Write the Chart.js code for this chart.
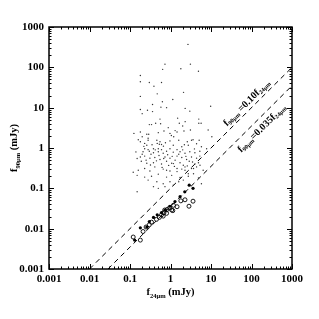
<!DOCTYPE html>
<html>
<head>
<meta charset="utf-8">
<script src="https://cdn.jsdelivr.net/npm/chart.js@4.4.0/dist/chart.umd.min.js"></script>
<style>
  html, body { margin: 0; padding: 0; background: #fff; }
</style>
</head>
<body>
<canvas id="chart" width="319" height="319"></canvas>
<script>
// axis ticks (both axes share the same decades)
const tickValues = [0.001, 0.01, 0.1, 1, 10, 100, 1000];
const tickLabels = ['0.001', '0.01', '0.1', '1', '10', '100', '1000'];

// small dots: [f24um, f90um] in mJy
const smallDots = [
  [2.7,370],[0.73,120],[3.1,120],[0.64,89],[1.8,92],[4.9,80],[0.18,63],[0.18,44],[0.30,42],[0.6,42],
  [0.39,34],[0.47,22],[2.1,24],[0.18,19],[1.14,16],[0.63,14],[0.36,12],[9.8,10.8],[0.58,10.3],[0.8,10],
  [2.3,9.6],[3.0,8.2],[0.18,9.0],[0.27,8.6],[0.36,8.0],[0.2,7.1],[0.55,5.2],[1.5,5.5],[5.0,5.2],[0.3,3.8],
  [0.34,3.8],[0.43,4.1],[0.57,4.0],[1.65,4.1],[2.0,3.5],[2.3,4.5],[5.0,4.1],[5.7,4.1],[0.125,2.3],[0.18,2.5],
  [0.26,2.2],[0.29,2.2],[0.5,2.4],[0.69,2.65],[0.97,2.3],[1.3,2.7],[2.15,2.65],[3.1,2.8],[1.45,2.5],[8.5,2.8],
  [1.05,2.05],[10.5,1.9],[0.2,1.9],[0.28,1.75],[0.28,1.56],[0.46,1.56],[0.55,1.43],[0.97,1.5],[1.6,1.56],[2.6,1.43],
  [3.3,1.56],[4.4,1.28],[5.1,1.56],[3.6,1.6],[0.18,1.43],[0.23,1.3],[0.26,1.17],[0.47,1.3],[0.53,1.24],[0.6,1.22],
  [0.67,1.11],[1.17,1.17],[1.9,1.07],[2.75,1.17],[5.8,1.07],[7.8,0.96],[0.23,0.96],[0.28,0.91],[0.38,0.96],[0.5,0.96],
  [0.6,0.91],[0.97,0.96],[1.45,0.91],[0.21,0.81],[0.3,0.83],[0.38,0.76],[0.5,0.81],[0.66,0.74],[0.8,0.83],[1.17,0.79],
  [1.72,0.81],[2.28,0.74],[3.0,0.81],[4.0,0.76],[5.3,0.83],[0.18,0.6],[0.23,0.63],[0.31,0.56],[0.41,0.58],[0.55,0.52],
  [0.73,0.6],[0.97,0.56],[1.45,0.63],[1.9,0.58],[2.5,0.52],[3.3,0.6],[4.4,0.56],[5.3,0.63],[0.19,0.47],[0.26,0.42],
  [0.38,0.43],[0.6,0.4],[0.8,0.47],[1.07,0.42],[1.72,0.43],[2.07,0.375],[2.9,0.47],[4.0,0.4],[4.9,0.43],[0.12,0.25],
  [0.16,0.28],[0.23,0.31],[0.31,0.27],[0.41,0.34],[0.66,0.3],[0.97,0.27],[1.45,0.31],[2.28,0.28],[3.3,0.31],[4.4,0.34],
  [0.15,0.21],[0.23,0.19],[0.34,0.2],[0.5,0.225],[0.8,0.19],[1.07,0.21],[1.72,0.185],[2.75,0.2],[3.7,0.23],[0.28,0.16],
  [0.46,0.145],[0.66,0.13],[1.17,0.12],[1.6,0.145],[2.07,0.16],[0.15,0.082],[0.5,0.1],[1.18,0.41],[2.28,0.34],[3.7,0.31],
  [0.8,0.28],[1.45,0.26],[2.75,0.23],[6.4,0.28],[5.8,0.13],[4.9,0.18],[0.97,0.145],[0.73,0.11],[0.38,0.11],[5.35,0.375],
  [0.2,0.7],[0.25,0.5],[0.33,0.7],[0.42,0.9],[0.52,0.65],[0.68,0.55],[0.85,0.68],[1.1,0.62],[1.3,0.5],[1.6,0.7],
  [2.0,0.9],[2.4,0.62],[0.22,1.1],[0.35,1.2],[0.45,0.48],[0.62,0.33],[0.9,0.37],[1.25,0.35],[1.9,0.3],[2.6,0.36],
  [3.5,0.45],[0.15,0.55],[0.14,0.8],[0.16,1.6],[0.32,0.38],[0.75,1.35],[1.2,1.9],[2.2,1.2],[3.9,0.95],[0.88,3.2]
];

// open circles along the lower relation
const openCircles = [
  [0.12,0.0062],[0.18,0.0052],[0.21,0.0085],[0.25,0.011],[0.3,0.0125],[0.34,0.0145],[0.45,0.017],[0.53,0.019],
  [0.6,0.022],[0.66,0.0205],[0.69,0.025],[0.72,0.029],[0.8,0.024],[0.83,0.03],[0.95,0.033],[1.07,0.029],
  [1.14,0.028],[1.18,0.038],[1.45,0.035],[1.8,0.049],[2.28,0.052],[2.86,0.036],[3.6,0.048]
];

// filled circles
const filledCircles = [
  [0.13,0.0052],[0.18,0.0105],[0.26,0.011],[0.3,0.015],[0.38,0.019],[0.47,0.022],[0.6,0.025],
  [0.73,0.029],[0.97,0.036],[1.29,0.047],[1.72,0.062],[2.25,0.082],[2.9,0.12],[3.6,0.1]
];

// the two relations f90 = 0.10 f24 and f90 = 0.035 f24 (end points)
const lineTen = [[0.01,0.001],[1000,100]];
const lineThree = [[0.0286,0.001],[1000,35]];

const toXY = arr => arr.map(p => ({x: p[0], y: p[1]}));

function drawRuns(ctx, runs, x, y, size, subSize, drop) {
  // runs: [text, isSubscript]
  const mainFont = `bold ${size}px "Liberation Serif"`;
  const subFont = `bold ${subSize}px "Liberation Serif"`;
  let w = 0;
  runs.forEach(r => { ctx.font = r[1] ? subFont : mainFont; w += ctx.measureText(r[0]).width; });
  let cx = x - w / 2;
  runs.forEach(r => {
    ctx.font = r[1] ? subFont : mainFont;
    ctx.fillText(r[0], cx, y + (r[1] ? drop : 0));
    cx += ctx.measureText(r[0]).width;
  });
}

const framePlugin = {
  id: 'frame',
  afterDatasetsDraw(chart) {
    const {ctx, chartArea: a, scales: {x, y}} = chart;
    ctx.save();
    ctx.strokeStyle = '#000';
    ctx.lineWidth = 1.5;
    ctx.strokeRect(a.left, a.top, a.right - a.left, a.bottom - a.top);

    // inward ticks on all four sides
    ctx.lineWidth = 1;
    ctx.beginPath();
    for (let d = -3; d <= 3; d++) {
      for (let m = 1; m < 10; m++) {
        if (d === 3 && m > 1) break;
        const v = m * Math.pow(10, d);
        const len = m === 1 ? 5 : 2.5;
        const px = Math.round(x.getPixelForValue(v)) + 0.5;
        const py = Math.round(y.getPixelForValue(v)) + 0.5;
        ctx.moveTo(px, a.bottom); ctx.lineTo(px, a.bottom - len);
        ctx.moveTo(px, a.top); ctx.lineTo(px, a.top + len);
        ctx.moveTo(a.left, py); ctx.lineTo(a.left + len, py);
        ctx.moveTo(a.right, py); ctx.lineTo(a.right - len, py);
      }
    }
    ctx.stroke();

    // labels on the relations, rotated along the lines
    ctx.fillStyle = '#000';
    ctx.textBaseline = 'middle';
    ctx.textAlign = 'left';
    const labels = [
      {at: [100, 10], off: -6.5, runs: [['f',0],['90μm',1],[' =0.10',0],['f',0],['24μm',1]]},
      {at: [126, 4.4], off: 9, runs: [['f',0],['90μm',1],['=0.035',0],['f',0],['24μm',1]]}
    ];
    labels.forEach(l => {
      const px = x.getPixelForValue(l.at[0]);
      const py = y.getPixelForValue(l.at[1]);
      ctx.save();
      ctx.translate(px + l.off * Math.SQRT1_2, py + l.off * Math.SQRT1_2);
      ctx.rotate(-Math.PI / 4);
      drawRuns(ctx, l.runs, 0, 0, 10, 6, 2.5);
      ctx.restore();
    });

    // axis titles
    ctx.textBaseline = 'alphabetic';
    drawRuns(ctx, [['f',0],['24μm',1],[' (mJy)',0]], (a.left + a.right) / 2, 295, 10.5, 6.5, 3);
    ctx.save();
    ctx.translate(17, (a.top + a.bottom) / 2);
    ctx.rotate(-Math.PI / 2);
    drawRuns(ctx, [['f',0],['90μm',1],[' (mJy)',0]], 0, 0, 10.5, 6.5, 3);
    ctx.restore();
    ctx.restore();
  }
};

const tickFont = {family: 'Liberation Serif', size: 11, weight: 'bold'};

new Chart(document.getElementById('chart'), {
  type: 'scatter',
  data: {
    datasets: [
      {data: toXY(smallDots), pointRadius: 0.7, pointBorderWidth: 0, pointBackgroundColor: '#333'},
      {data: toXY(openCircles), pointRadius: 2, pointBorderWidth: 0.9, pointBorderColor: '#000', pointBackgroundColor: 'rgba(0,0,0,0)'},
      {data: toXY(filledCircles), pointRadius: 1.6, pointBorderWidth: 0, pointBackgroundColor: '#000'},
      {data: toXY(lineTen), showLine: true, borderColor: '#000', borderWidth: 1, borderDash: [5, 4], pointRadius: 0},
      {data: toXY(lineThree), showLine: true, borderColor: '#000', borderWidth: 1, borderDash: [5, 4], pointRadius: 0}
    ]
  },
  options: {
    responsive: false,
    animation: false,
    layout: {padding: {left: 0, top: 27, right: 27, bottom: 0}},
    plugins: {legend: {display: false}, tooltip: {enabled: false}},
    scales: {
      x: {
        type: 'logarithmic', min: 0.001, max: 1000,
        afterBuildTicks: s => { s.ticks = tickValues.map(v => ({value: v})); },
        afterFit: s => { s.height = 50; },
        ticks: {callback: (v, i) => tickLabels[i], font: tickFont, color: '#000', padding: 4, maxRotation: 0, autoSkip: false},
        grid: {display: false, drawTicks: false},
        border: {display: false}
      },
      y: {
        type: 'logarithmic', min: 0.001, max: 1000,
        afterBuildTicks: s => { s.ticks = tickValues.map(v => ({value: v})); },
        afterFit: s => { s.width = 49; },
        ticks: {callback: (v, i) => tickLabels[i], font: tickFont, color: '#000', padding: 5, autoSkip: false},
        grid: {display: false, drawTicks: false},
        border: {display: false}
      }
    }
  },
  plugins: [framePlugin]
});
</script>
</body>
</html>
